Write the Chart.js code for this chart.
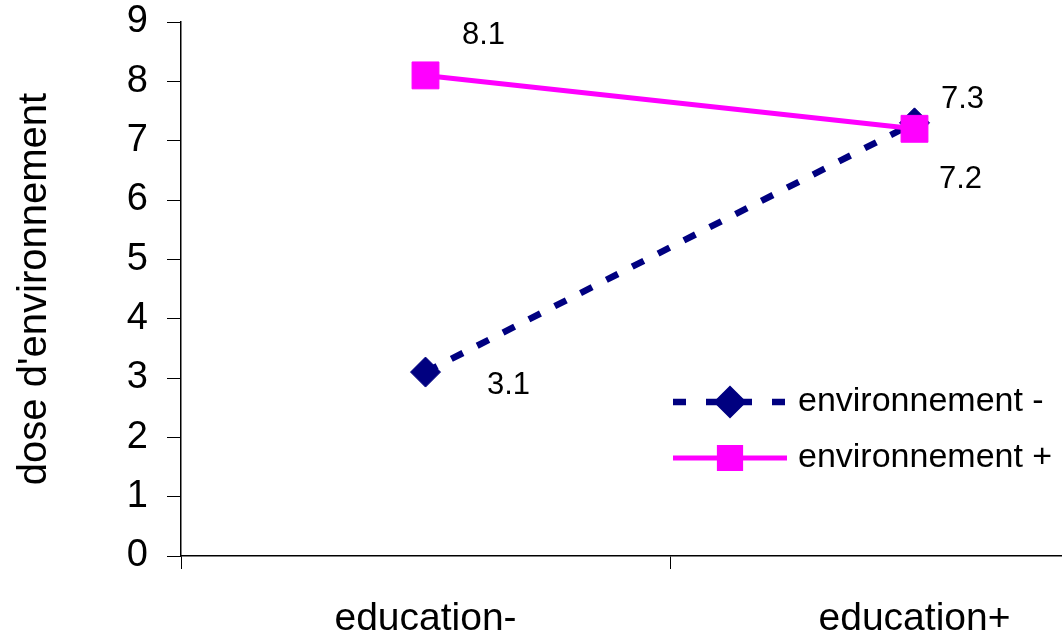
<!DOCTYPE html>
<html>
<head>
<meta charset="utf-8">
<title>dose d'environnement</title>
<script src="https://cdn.jsdelivr.net/npm/chart.js@4"></script>
<style>
  html, body { margin: 0; padding: 0; background: #fff; overflow: hidden; }
  #wrap { position: relative; width: 1159px; height: 637px; }
</style>
</head>
<body>
<div id="wrap"><canvas id="chart"></canvas></div>
<script>
const categories = ['education-', 'education+'];
const envMoins = [3.1, 7.3];
const envPlus = [8.1, 7.2];
const seriesNames = ['environnement -', 'environnement +'];
const yTicks = [0, 1, 2, 3, 4, 5, 6, 7, 8, 9];

const font = "'Liberation Sans', Arial, sans-serif";

// label offsets from each point, per dataset (pixels)
const labelOffsets = [
    [[83, 13], [48, -23]],
    [[58, -40], [46, 51]]
];

const pointLabels = {
    id: 'pointLabels',
    afterDatasetsDraw(chart) {
        const ctx = chart.ctx;
        ctx.save();
        ctx.font = '31px ' + font;
        ctx.fillStyle = '#000';
        ctx.textAlign = 'center';
        ctx.textBaseline = 'middle';
        chart.data.datasets.forEach((ds, i) => {
            chart.getDatasetMeta(i).data.forEach((pt, j) => {
                const off = labelOffsets[i][j];
                ctx.fillText(ds.data[j].toFixed(1), pt.x + off[0], pt.y + off[1]);
            });
        });
        ctx.restore();
    }
};

const boxLegend = {
    id: 'boxLegend',
    afterDraw(chart) {
        const ctx = chart.ctx;
        const x0 = 673, x1 = 787, top = 402, gap = 56;
        ctx.save();
        chart.data.datasets.forEach((ds, i) => {
            const y = top + i * gap;
            ctx.strokeStyle = ds.borderColor;
            ctx.lineWidth = ds.borderWidth;
            ctx.setLineDash(ds.legendDash || []);
            ctx.lineCap = 'butt';
            ctx.beginPath();
            ctx.moveTo(x0, y);
            ctx.lineTo(x1, y);
            ctx.stroke();
            ctx.setLineDash([]);
            ctx.fillStyle = ds.pointBackgroundColor;
            ctx.strokeStyle = ds.pointBorderColor;
            Chart.helpers.drawPoint(ctx, {
                pointStyle: ds.pointStyle,
                radius: ds.legendRadius,
                rotation: 0,
                borderWidth: 1
            }, (x0 + x1) / 2, y);
            ctx.fillStyle = '#000';
            ctx.font = '34px ' + font;
            ctx.textAlign = 'left';
            ctx.textBaseline = 'middle';
            ctx.fillText(ds.label, x1 + 11, y);
        });
        ctx.restore();
    }
};

new Chart(document.getElementById('chart'), {
    type: 'line',
    data: {
        labels: categories,
        datasets: [
            {
                label: seriesNames[0],
                data: envMoins,
                order: 1,
                borderColor: '#000080',
                borderWidth: 6.5,
                borderDash: [13, 16],
                legendDash: [13, 20],
                pointStyle: 'rectRot',
                pointRadius: 15,
                legendRadius: 12,
                pointBackgroundColor: '#000080',
                pointBorderColor: '#000080',
                pointBorderWidth: 1,
                tension: 0
            },
            {
                label: seriesNames[1],
                data: envPlus,
                order: 0,
                borderColor: '#ff00ff',
                borderWidth: 5,
                pointStyle: 'rect',
                pointRadius: 19,
                legendRadius: 15,
                pointBackgroundColor: '#ff00ff',
                pointBorderColor: '#ff00ff',
                pointBorderWidth: 1,
                tension: 0
            }
        ]
    },
    options: {
        responsive: true,
        maintainAspectRatio: false,
        animation: false,
        layout: {
            autoPadding: false,
            padding: { top: 22, right: 0, left: 0, bottom: 0 }
        },
        plugins: {
            legend: { display: false },
            tooltip: { enabled: false }
        },
        scales: {
            x: {
                offset: true,
                grid: {
                    offset: true,
                    drawOnChartArea: false,
                    drawTicks: true,
                    tickLength: 13,
                    color: '#000'
                },
                border: { display: true, color: '#000', width: 1.5 },
                ticks: {
                    color: '#000',
                    padding: 27,
                    maxRotation: 0,
                    font: { family: font, size: 39 }
                },
                afterFit(scale) {
                    scale.height = 81;
                    scale.paddingLeft = 0;
                    scale.paddingRight = 0;
                }
            },
            y: {
                min: 0,
                max: 9,
                afterBuildTicks(scale) {
                    scale.ticks = yTicks.map(v => ({ value: v }));
                },
                grid: {
                    drawOnChartArea: false,
                    drawTicks: true,
                    tickLength: 14,
                    color: '#000'
                },
                border: { display: true, color: '#000', width: 1.5 },
                ticks: {
                    color: '#000',
                    padding: 19,
                    font: { family: font, size: 38 }
                },
                title: {
                    display: true,
                    text: "dose d'environnement",
                    color: '#000',
                    padding: { top: 11, bottom: 0 },
                    font: { family: font, size: 40 }
                },
                afterFit(scale) {
                    scale.width = 181;
                    scale.paddingTop = 0;
                    scale.paddingBottom = 0;
                }
            }
        }
    },
    plugins: [pointLabels, boxLegend]
});
</script>
</body>
</html>
